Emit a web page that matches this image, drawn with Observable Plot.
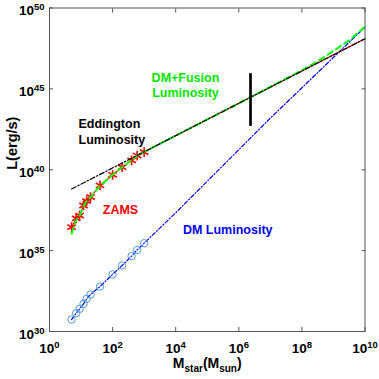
<!DOCTYPE html>
<html><head><meta charset="utf-8">
<script src="https://cdn.jsdelivr.net/npm/d3@7"></script>
<script src="https://cdn.jsdelivr.net/npm/@observablehq/plot@0.6"></script>
<style>html,body{margin:0;padding:0;background:#fff;} svg{display:block}</style>
</head><body><div id="chart"></div>
<script>
// ---- data (log10 of luminosity in erg/s, mass in solar masses) ----
const starMass = [5, 7, 9, 12, 15, 20, 40, 100, 200, 400, 600, 1000];
const zamsLogL = [36.45, 36.99, 37.17, 37.79, 38.06, 38.31, 39.03, 39.69, 40.16, 40.58, 40.88, 41.09];
const dmLogL   = [30.74, 31.13, 31.40, 31.71, 32.02, 32.29, 32.78, 33.53, 34.08, 34.66, 35.04, 35.46];

const fusionMass = [5, 7, 9, 12, 15, 20, 40, 100, 200, 400, 600, 1000, 1e4, 1e6, 1e8, 1e10];
const fusionLogL = [36.45, 36.99, 37.17, 37.79, 38.06, 38.31, 39.03, 39.69, 40.16, 40.58, 40.88, 41.1, 42.11, 44.11, 46.11, 48.1];

const totalMass = [5, 7, 9, 12, 15, 20, 40, 100, 200, 400, 600, 1000, 1e4, 1e6, 1e8, 3.16e8, 1e9, 3.16e9, 1e10];
const totalLogL = [36.05, 36.9, 37.17, 37.75, 38.05, 38.3, 39.02, 39.69, 40.16, 40.58, 40.88, 41.1, 42.11, 44.11, 46.15, 46.7, 47.35, 48.0, 48.85];

const dmLineMass = [5, 7, 9, 12, 15, 20, 40, 100, 200, 400, 600, 1000, 1e4, 1e7, 1e10];
const dmLineLogL = [30.74, 31.13, 31.40, 31.71, 32.02, 32.29, 32.78, 33.53, 34.08, 34.66, 35.04, 35.46, 37.34, 43.19, 48.82];

const eddMass = [5, 1e10];
const eddLogL = [38.81, 48.1];

const barMass = [2.35e6];
const barLogL = [42.68, 45.94];

const xTicks = [1, 1e2, 1e4, 1e6, 1e8, 1e10];
const yTicks = [1e30, 1e35, 1e40, 1e45, 1e50];

const labels = [
  {text: "DM+Fusion\nLuminosity", m: 2.04e4, logL: 45.24},
  {text: "Eddington\nLuminosity", m: 8.3, logL: 42.39},
  {text: "ZAMS", m: 178, logL: 37.50},
  {text: "DM Luminosity", m: 4.45e5, logL: 36.26}
];

// ---- build tables ----
const rows = (ms, ls) => ms.map((m, i) => ({m, L: Math.pow(10, ls[i])}));
const barRows = barMass.map(m => ({m, L1: Math.pow(10, barLogL[0]), L2: Math.pow(10, barLogL[1])}));
const lab = i => [{...labels[i], L: Math.pow(10, labels[i].logL)}];
const fmt = d => "10^" + Math.round(Math.log10(d));

const font = "'Liberation Sans', Arial, Helvetica, sans-serif";
const axisGray = "#555";

const svg = Plot.plot({
  width: 379, height: 379,
  marginLeft: 49, marginRight: 14.5, marginTop: 7.5, marginBottom: 48,
  style: {fontFamily: font, fontWeight: "bold", fontSize: "13.5px", background: "white", color: "black", overflow: "visible"},
  x: {type: "log", domain: [1, 1e10]},
  y: {type: "log", domain: [1e30, 1e50]},
  marks: [
    Plot.line(rows(dmLineMass, dmLineLogL), {x: "m", y: "L", stroke: "#0000ff", strokeWidth: 1.2, strokeDasharray: "4,2,1,2"}),
    Plot.dot(rows(starMass, dmLogL), {x: "m", y: "L", r: 3.7, stroke: "#4a9ee0", strokeWidth: 1, fill: "none"}),
    Plot.line(rows(fusionMass, fusionLogL), {x: "m", y: "L", stroke: "red", strokeWidth: 1.1}),
    Plot.dot(rows(starMass, zamsLogL), {x: "m", y: "L", symbol: "asterisk", r: 4.6, stroke: "red", strokeWidth: 1.6}),
    Plot.line(rows(totalMass, totalLogL), {x: "m", y: "L", stroke: "#00ff00", strokeWidth: 2, strokeDasharray: "6,4"}),
    Plot.line(rows(eddMass, eddLogL), {x: "m", y: "L", stroke: "black", strokeWidth: 1.2, strokeDasharray: "5,2,1.5,2"}),
    Plot.ruleX(barRows, {x: "m", y1: "L1", y2: "L2", stroke: "black", strokeWidth: 2.7}),
    Plot.text(lab(0), {x: "m", y: "L", text: "text", fill: "#00e600", fontSize: 12.5, fontWeight: "bold", lineHeight: 1.2, textAnchor: "middle"}),
    Plot.text(lab(1), {x: "m", y: "L", text: "text", fill: "black", fontSize: 12.5, fontWeight: "bold", lineHeight: 1.25, textAnchor: "start"}),
    Plot.text(lab(2), {x: "m", y: "L", text: "text", fill: "red", fontSize: 12.5, fontWeight: "bold", textAnchor: "middle"}),
    Plot.text(lab(3), {x: "m", y: "L", text: "text", fill: "#0000ff", fontSize: 12.5, fontWeight: "bold", textAnchor: "middle"}),
    Plot.frame({stroke: axisGray, strokeWidth: 1}),
    Plot.axisX({anchor: "bottom", ticks: xTicks, tickSize: -4, tickPadding: 4, tickFormat: fmt, label: null, stroke: axisGray, fill: "black"}),
    Plot.axisX({anchor: "top", ticks: xTicks, tickSize: -4, tickFormat: () => "", label: null, stroke: axisGray}),
    Plot.axisY({anchor: "left", ticks: yTicks, tickSize: -4, tickPadding: 9, tickFormat: fmt, label: null, stroke: axisGray, fill: "black"}),
    Plot.axisY({anchor: "right", ticks: yTicks, tickSize: -4, tickFormat: () => "", label: null, stroke: axisGray}),
    Plot.text(["L(erg/s)"], {frameAnchor: "left", rotate: -90, dx: -37, fontSize: 14.5, fontWeight: "bold", fill: "black"}),
    Plot.text(["M_star(M_sun)"], {frameAnchor: "bottom", dy: 36, fontSize: 14, fontWeight: "bold", fill: "black"})
  ]
});

// superscripts on tick labels
d3.select(svg).selectAll("g[aria-label='x-axis tick label'] text").each(function () {
  const m = /^10\^(\d+)$/.exec(this.textContent);
  if (!m) return;
  const s = d3.select(this);
  s.attr("y", 21).text("10");
  s.append("tspan").attr("dy", -5).attr("font-size", "9.5px").text(m[1]);
});
d3.select(svg).selectAll("g[aria-label='y-axis tick label'] text").each(function () {
  const m = /^10\^(\d+)$/.exec(this.textContent);
  if (!m) return;
  const s = d3.select(this);
  s.attr("y", 7).text("10");
  s.append("tspan").attr("dy", -5).attr("font-size", "9.5px").text(m[1]);
});
// subscripts on the x label
d3.select(svg).selectAll("text").each(function () {
  if (this.textContent !== "M_star(M_sun)") return;
  const s = d3.select(this).text("");
  s.append("tspan").text("M");
  s.append("tspan").attr("dy", 4).attr("font-size", "10px").text("star");
  s.append("tspan").attr("dy", -4).text("(M");
  s.append("tspan").attr("dy", 4).attr("font-size", "10px").text("sun");
  s.append("tspan").attr("dy", -4).text(")");
});

document.getElementById("chart").appendChild(svg);
</script>
</body></html>
